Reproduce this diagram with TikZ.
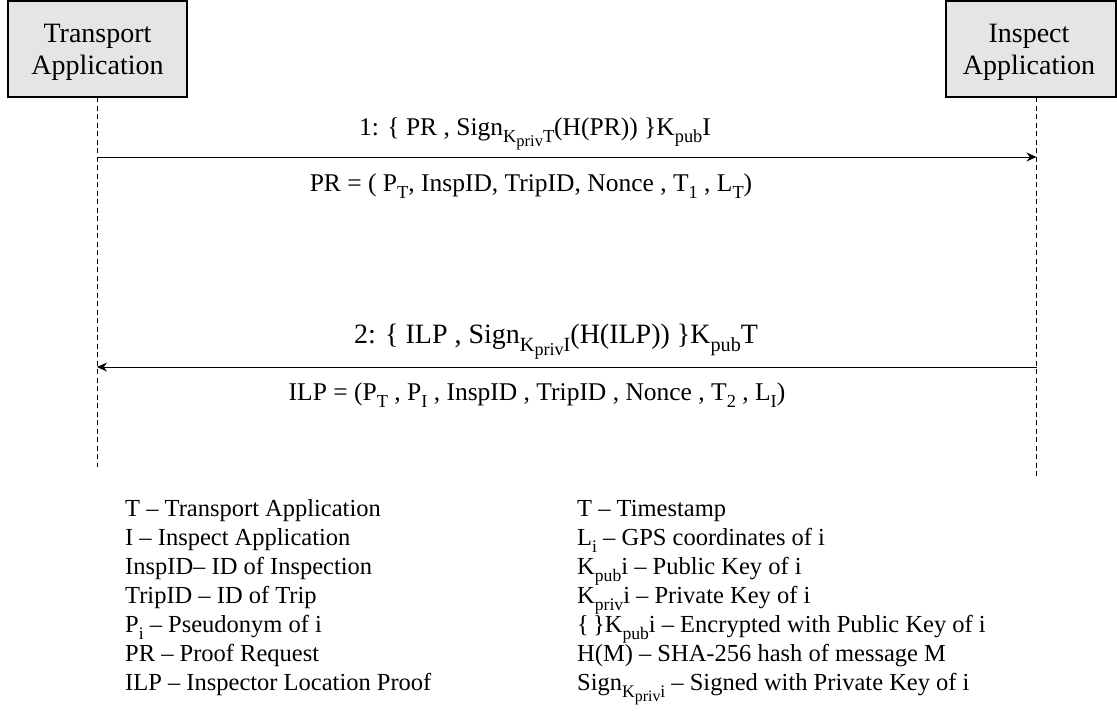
\documentclass[tikz,border=0pt]{standalone}
\usepackage{fontspec}
\setmainfont{Liberation Serif}
\usetikzlibrary{arrows.meta}
\makeatletter
\newcommand\sbx[1]{{\raisebox{-0.3em}{\fontsize{\fpeval{0.72*\f@size}}{0}\selectfont #1}}}
\newcommand\sbxx[1]{{\raisebox{-0.22em}{\fontsize{\fpeval{0.9*\f@size}}{0}\selectfont #1}}}
\makeatother
\tikzset{
  actor/.style={draw, line width=1.2pt, fill=black!10, inner sep=0pt},
  actortext/.style={inner sep=0pt, align=center, anchor=base, font=\fontsize{28}{32}\selectfont},
  life/.style={line width=0.9pt, dash pattern=on 5pt off 3.5pt},
  msg/.style={line width=1pt, -{Stealth[length=10pt,width=9pt]}},
  lbl/.style={anchor=base, inner sep=0pt, font=\fontsize{25.5}{30}\selectfont},
  leg/.style={anchor=base west, inner sep=0pt, align=left, font=\fontsize{24.5}{29}\selectfont}
}
\begin{document}
\begin{tikzpicture}[x=1pt,y=-1pt]
\useasboundingbox (0,0) rectangle (1117,716);
\node[actor, minimum width=179pt, minimum height=96pt] (T) at (97.5,49) {};
\node[actor, minimum width=170pt, minimum height=96pt] (I) at (1031,49) {};
\node[actortext] (Ttxt) at (97.5,74) {Transport\\Application};
\node[actortext] (Itxt) at (1029,74) {Inspect\\Application};
\coordinate (Ttop) at (97,97);
\coordinate (Tbot) at (97,467);
\coordinate (Itop) at (1036.5,97);
\coordinate (Ibot) at (1036.5,477);
\draw[life] (Ttop) -- (Tbot);
\draw[life] (Itop) -- (Ibot);
\coordinate (m1a) at (97,157);
\coordinate (m1b) at (1036.5,157);
\coordinate (m2a) at (1036.5,367);
\coordinate (m2b) at (97,367);
\draw[msg] (m1a) -- (m1b);
\draw[msg] (m2a) -- (m2b);
\node[lbl] (l1) at (535,135) {1: \{ PR , Sign\sbx{K\sbxx{priv}T}(H(PR)) \}K\sbx{pub}I};
\node[lbl] (p1) at (531,191) {PR = ( P\sbx{T}, InspID, TripID, Nonce , T\sbx{1} , L\sbx{T})};
\node[lbl, font=\fontsize{28}{32}\selectfont] (l2) at (556,343) {2: \{ ILP , Sign\sbx{K\sbxx{priv}I}(H(ILP)) \}K\sbx{pub}T};
\node[lbl] (p2) at (537,400) {ILP = (P\sbx{T} , P\sbx{I} , InspID , TripID , Nonce , T\sbx{2} , L\sbx{I})};
\node[leg] (legL) at (125,690) {T -- Transport Application\\
I -- Inspect Application\\
InspID-- ID of Inspection\\
TripID -- ID of Trip\\
P\sbx{i} -- Pseudonym of i\\
PR -- Proof Request\\
ILP -- Inspector Location Proof};
\node[leg] (legR) at (577,690) {T -- Timestamp\\
L\sbx{i} -- GPS coordinates of i\\
K\sbx{pub}i -- Public Key of i\\
K\sbx{priv}i -- Private Key of i\\
\{\,\}K\sbx{pub}i -- Encrypted with Public Key of i\\
H(M) -- SHA-256 hash of message M\\
Sign\sbx{K\sbxx{priv}i} -- Signed with Private Key of i};
\end{tikzpicture}
\end{document}
